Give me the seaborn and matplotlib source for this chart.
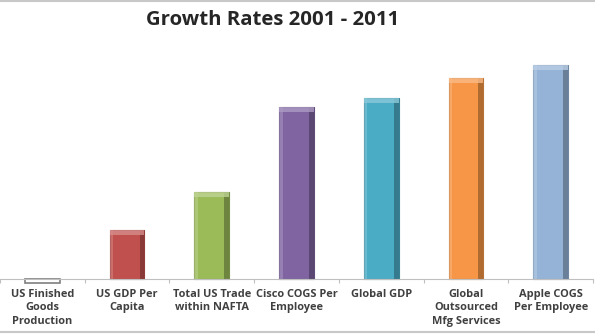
import matplotlib
matplotlib.use("Agg")
import matplotlib.pyplot as plt
import matplotlib.colors as mcolors
from matplotlib.patches import Rectangle
from matplotlib.lines import Line2D
import seaborn as sns
import pandas as pd

categories = [
    "US Finished\nGoods\nProduction",
    "US GDP Per\nCapita",
    "Total US Trade\nwithin NAFTA",
    "Cisco COGS Per\nEmployee",
    "Global GDP",
    "Global\nOutsourced\nMfg Services",
    "Apple COGS\nPer Employee",
]
growth = [-4, 49, 87, 172, 181, 201, 214]
colors = ["#FFFFFF", "#C0504D", "#9BBB59", "#8064A2", "#4BACC6", "#F79646", "#95B3D7"]
title = "Growth Rates 2001 - 2011"

sns.set_theme(style="white")
plt.rcParams["font.family"] = ["Open Sans", "DejaVu Sans"]

df = pd.DataFrame({"cat": categories, "val": growth})

fig = plt.figure(figsize=(5.95, 3.35), dpi=100)
ax = fig.add_axes([0.0, 45 / 335, 593 / 595, 240 / 335])
sns.barplot(data=df, x="cat", y="val", hue="cat", palette=colors, legend=False,
            width=0.41, ax=ax, saturation=1)

ax.set_xlim(-0.5 + 9 / 86.3, 6.5)
ax.set_ylim(-11, 229)

# bevel effect on each bar
for patch, c in zip(ax.patches, colors):
    x, y = patch.get_x(), patch.get_y()
    w, h = patch.get_width(), patch.get_height()
    rgb = mcolors.to_rgb(c)
    if c.upper() == "#FFFFFF":
        patch.set_edgecolor("#7F7F7F")
        patch.set_linewidth(1.2)
        continue
    dark = tuple(v * 0.62 for v in rgb)
    light = tuple(v + (1 - v) * 0.35 for v in rgb)
    patch.set_edgecolor(tuple(v * 0.75 for v in rgb))
    patch.set_linewidth(0.8)
    ax.add_patch(Rectangle((x + w * 0.86, y), w * 0.14, h, facecolor=dark,
                           edgecolor="none", alpha=0.75, zorder=patch.get_zorder() + 0.1))
    ax.add_patch(Rectangle((x, y), w * 0.1, h, facecolor=light,
                           edgecolor="none", alpha=0.5, zorder=patch.get_zorder() + 0.1))
    ax.add_patch(Rectangle((x, y + h - 5), w, 5, facecolor=light,
                           edgecolor="none", alpha=0.8, zorder=patch.get_zorder() + 0.1))

ax.set_xlabel("")
ax.set_ylabel("")
ax.set_yticks([])
ax.set_xticks(range(len(categories)))
ax.set_xticklabels([])
ax.set_xticks([i + 0.5 for i in range(-1, len(categories))], minor=True)
ax.tick_params(axis="x", which="minor", length=3, color="#BFBFBF", width=0.8, bottom=True)
ax.tick_params(axis="x", which="major", length=0)

for i, lab in enumerate(categories):
    ax.annotate(lab, xy=(i, 0), xycoords="data", xytext=(0, -7),
                textcoords="offset points", ha="center", va="top",
                fontsize=7.9, fontweight="bold", color="#404040",
                linespacing=1.32, annotation_clip=False)

for s in ["top", "right", "left"]:
    ax.spines[s].set_visible(False)
ax.spines["bottom"].set_position(("data", 0))
ax.spines["bottom"].set_color("#BFBFBF")
ax.spines["bottom"].set_linewidth(0.8)
ax.set_facecolor("none")

fig.text(273 / 595, 1 - 20 / 335, title, ha="center", va="center",
         fontsize=14.7, fontweight="bold", color="#262626")

fig.add_artist(Line2D([0, 1], [1 - 1 / 335, 1 - 1 / 335], color="#C8C8C8", lw=1.5))
fig.add_artist(Line2D([0, 1], [3 / 335, 3 / 335], color="#C8C8C8", lw=1.5))

fig.savefig("out.png", dpi=100)
